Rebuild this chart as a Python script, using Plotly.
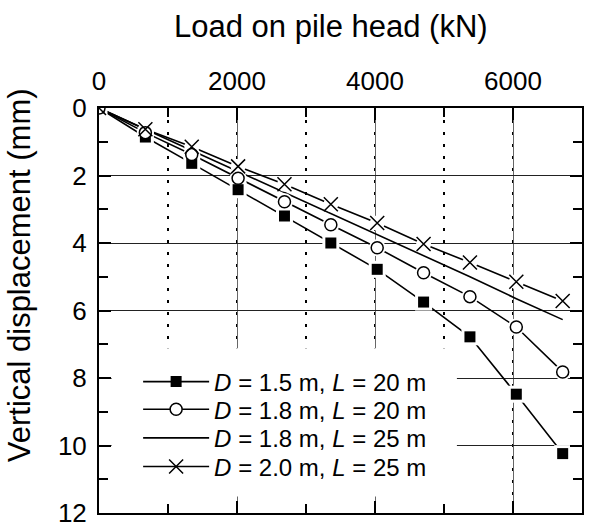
import plotly.graph_objects as go

# ---- data ----
load_kN = [0, 672, 1344, 2016, 2688, 3360, 4032, 4704, 5376, 6048, 6720]
disp_d15_l20 = [0, 0.86, 1.64, 2.42, 3.20, 4.00, 4.78, 5.75, 6.78, 8.48, 10.24]
disp_d18_l20 = [0, 0.73, 1.38, 2.08, 2.78, 3.46, 4.14, 4.88, 5.59, 6.49, 7.82]
disp_d18_l25 = [0, 0.64, 1.26, 1.88, 2.50, 3.12, 3.75, 4.37, 5.00, 5.65, 6.27]
disp_d20_l25 = [0, 0.63, 1.15, 1.73, 2.26, 2.85, 3.41, 4.03, 4.58, 5.15, 5.72]

names = [
    "<i>D</i> = 1.5 m, <i>L</i> = 20 m",
    "<i>D</i> = 1.8 m, <i>L</i> = 20 m",
    "<i>D</i> = 1.8 m, <i>L</i> = 25 m",
    "<i>D</i> = 2.0 m, <i>L</i> = 25 m",
]
x_ticks = [0, 2000, 4000, 6000]
y_ticks = [0, 2, 4, 6, 8, 10, 12]

FONT = "Arial, Liberation Sans, sans-serif"
series = [disp_d15_l20, disp_d18_l20, disp_d18_l25, disp_d20_l25]
markers = [
    dict(symbol="square", size=11, color="black", line=dict(width=0)),
    dict(symbol="circle", size=12, color="white", line=dict(width=1.5, color="black")),
    None,
    dict(symbol="x-thin-open", size=14, color="black", line=dict(width=1.5, color="black")),
]
halo_sym = ["square", "circle", None, "circle"]
halo_size = [17, 17, None, 15]

fig = go.Figure()

# lines
for ys in series:
    fig.add_trace(go.Scatter(x=load_kN, y=ys, mode="lines",
                             line=dict(color="black", width=1.6),
                             showlegend=False, hoverinfo="skip"))
# white halos (gaps between lines and markers)
for ys, hs, hz in zip(series, halo_sym, halo_size):
    if hs is None:
        continue
    fig.add_trace(go.Scatter(x=load_kN, y=ys, mode="markers",
                             marker=dict(symbol=hs, size=hz, color="white", line=dict(width=0)),
                             showlegend=False, hoverinfo="skip"))
# markers
for ys, mk in zip(series, markers):
    if mk is None:
        continue
    fig.add_trace(go.Scatter(x=load_kN, y=ys, mode="markers", marker=mk,
                             showlegend=False))

# legend entries: one legend per row so the row spacing can match
legend_ids = ["legend", "legend2", "legend3", "legend4"]
legend_rows_y = [0.3235, 0.2552, 0.1845, 0.1137]
for nm, mk, lid in zip(names, markers, legend_ids):
    fig.add_trace(go.Scatter(x=[None], y=[None],
                             mode="lines+markers" if mk else "lines",
                             marker=mk if mk else None,
                             line=dict(color="black", width=1.6), name=nm,
                             legend=lid))

# white box behind legend (covers gridlines)
fig.add_shape(type="rect", xref="paper", yref="paper",
              x0=0.026, x1=0.741, y0=0.041, y1=0.407,
              fillcolor="white", line=dict(width=0), layer="above")

legend_style = dict(x=0.081, xanchor="left", yanchor="middle",
                    bgcolor="rgba(0,0,0,0)", borderwidth=0,
                    font=dict(size=24, family=FONT, color="black"), itemwidth=66)
layout_legends = {lid: dict(legend_style, y=yy) for lid, yy in zip(legend_ids, legend_rows_y)}

fig.update_layout(
    width=589, height=530,
    margin=dict(l=99, r=7, t=108, b=17, pad=0, autoexpand=False),
    paper_bgcolor="white", plot_bgcolor="white",
    font=dict(family=FONT, color="black", size=26),
    showlegend=True,
    annotations=[
        dict(text="Load on pile head (kN)", xref="paper", yref="paper",
             x=0.48, y=1.0, yshift=82, xanchor="center", yanchor="middle",
             showarrow=False, font=dict(size=31, family=FONT)),
        dict(text="Vertical displacement (mm)", xref="paper", yref="paper",
             x=0.0, xshift=-80, y=0.587, xanchor="center", yanchor="middle",
             textangle=-90, showarrow=False, font=dict(size=31, family=FONT)),
    ],
    **layout_legends,
)

fig.update_xaxes(
    side="top", range=[0, 7000], tickvals=x_ticks, automargin=False,
    showline=True, linewidth=2, linecolor="black", mirror="ticks",
    ticks="inside", ticklen=12, tickwidth=2, tickcolor="black",
    showgrid=True, gridcolor="#666", gridwidth=1,
    zeroline=False, tickfont=dict(size=26), ticklabelstandoff=6,
    ticklabeloverflow="allow",
    minor=dict(dtick=1000, ticks="inside", ticklen=9, tickwidth=2, tickcolor="black",
               showgrid=True, gridcolor="black", gridwidth=2, griddash="3px,9px"),
)
fig.update_yaxes(
    range=[12, 0], tickvals=y_ticks, automargin=False,
    showline=True, linewidth=2, linecolor="black", mirror="ticks",
    ticks="inside", ticklen=12, tickwidth=2, tickcolor="black",
    showgrid=True, gridcolor="#222", gridwidth=1,
    zeroline=False, tickfont=dict(size=26), ticklabelstandoff=5,
    ticklabeloverflow="allow",
    minor=dict(dtick=1, ticks="inside", ticklen=9, tickwidth=2, tickcolor="black",
               showgrid=False),
)

fig.write_html("out.html")
